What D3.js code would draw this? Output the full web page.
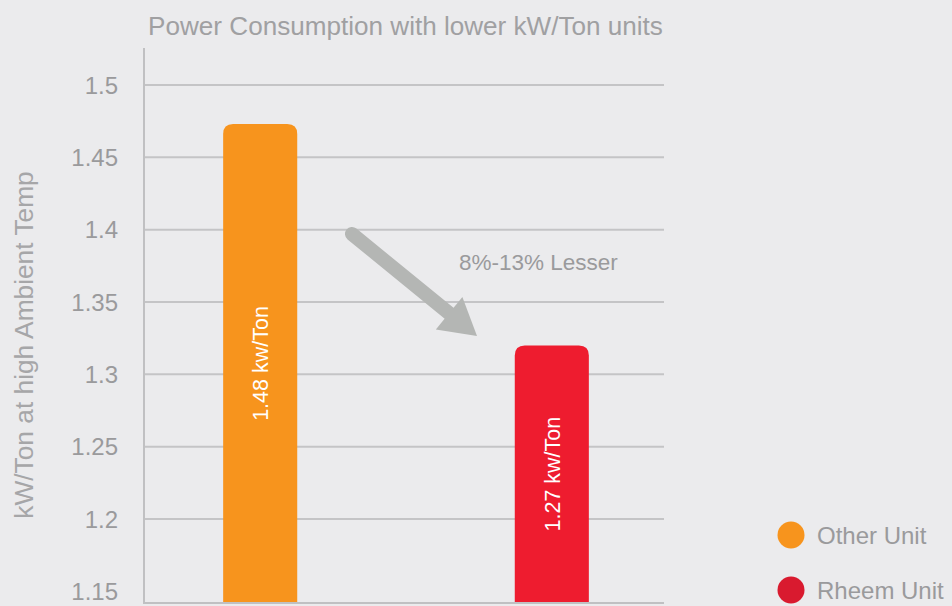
<!DOCTYPE html>
<html>
<head>
<meta charset="utf-8">
<script src="https://cdn.jsdelivr.net/npm/d3@7"></script>
<style>
  html, body { margin: 0; padding: 0; background: #ebebed; }
  svg { display: block; }
  text { font-family: "Liberation Sans", Arial, sans-serif; }
</style>
</head>
<body>
<svg id="chart" width="952" height="606"></svg>
<script>
const categories = ["Other Unit", "Rheem Unit"];
const values = [1.473, 1.320];
const barLabels = ["1.48 kw/Ton", "1.27 kw/Ton"];
const tickValues = [1.15, 1.2, 1.25, 1.3, 1.35, 1.4, 1.45, 1.5];
const gridValues = [1.2, 1.25, 1.3, 1.35, 1.4, 1.45, 1.5];
const colors = ["#f7941d", "#ee1c2f"];
const legendColors = ["#f7941d", "#d91a2f"];
const titleText = "Power Consumption with lower kW/Ton units";
const yTitle = "kW/Ton at high Ambient Temp";
const annotation = "8%-13% Lesser";

const svg = d3.select("#chart");
const W = 952, H = 606;
svg.append("rect").attr("width", W).attr("height", H).attr("fill", "#ebebed");

const plotLeft = 145, plotRight = 664;
const y = d3.scaleLinear().domain([1.2, 1.5]).range([519, 85]);
const yBottom = y(1.142), yTop = y(1.5255);

const x = d3.scaleBand().domain(categories).range([plotLeft, 667])
  .paddingInner(0.746).paddingOuter(0.268);

// gridlines
svg.append("g").selectAll("line").data(gridValues).join("line")
  .attr("x1", plotLeft).attr("x2", plotRight)
  .attr("y1", d => y(d)).attr("y2", d => y(d))
  .attr("stroke", "#c4c4c6").attr("stroke-width", 2);

// bars with rounded tops
const r = 10;
svg.append("g").selectAll("path").data(values).join("path")
  .attr("d", (d, i) => {
    const x0 = x(categories[i]), x1 = x0 + x.bandwidth();
    const t = y(d), b = yBottom;
    return `M${x0},${b} L${x0},${t + r} Q${x0},${t} ${x0 + r},${t} L${x1 - r},${t} Q${x1},${t} ${x1},${t + r} L${x1},${b} Z`;
  })
  .attr("fill", (d, i) => colors[i]);

// axis lines
svg.append("line").attr("x1", plotLeft - 1).attr("x2", plotLeft - 1)
  .attr("y1", yTop).attr("y2", yBottom + 1)
  .attr("stroke", "#c0c0c2").attr("stroke-width", 2);
svg.append("line").attr("x1", plotLeft - 2).attr("x2", plotRight)
  .attr("y1", yBottom).attr("y2", yBottom)
  .attr("stroke", "#c0c0c2").attr("stroke-width", 2);

// tick labels
svg.append("g").selectAll("text").data(tickValues).join("text")
  .attr("x", 118).attr("y", d => y(d)).attr("dy", "0.36em")
  .attr("text-anchor", "end").attr("font-size", 24).attr("fill", "#9a9a9c")
  .text(d => d3.format("")(d));

// bar labels
svg.append("g").selectAll("text").data(values).join("text")
  .attr("transform", (d, i) => {
    const cx = x(categories[i]) + x.bandwidth() / 2;
    const cy = (y(d) + yBottom) / 2;
    return `translate(${cx},${cy}) rotate(-90)`;
  })
  .attr("text-anchor", "middle").attr("dy", "0.36em")
  .attr("font-size", 21.5).attr("fill", "#ffffff")
  .text((d, i) => barLabels[i]);

// title
svg.append("text").attr("x", 405.5).attr("y", 35)
  .attr("text-anchor", "middle").attr("font-size", 26.1).attr("fill", "#a0a0a2")
  .text(titleText);

// y title
svg.append("text").attr("transform", `translate(33,345) rotate(-90)`)
  .attr("text-anchor", "middle").attr("font-size", 26.3).attr("fill", "#a6a6a8")
  .text(yTitle);

// arrow annotation
const sx = 352, sy = y(1.397);
const tx = 477, ty = y(1.3265);
const dx = tx - sx, dy = ty - sy, len = Math.hypot(dx, dy);
const ux = dx / len, uy = dy / len;
const headLen = 36, headHalf = 21;
const bx = tx - ux * headLen, by = ty - uy * headLen;
svg.append("line").attr("x1", sx).attr("y1", sy).attr("x2", bx + ux * 2).attr("y2", by + uy * 2)
  .attr("stroke", "#b4b6b4").attr("stroke-width", 14).attr("stroke-linecap", "round");
svg.append("path")
  .attr("d", `M${tx},${ty} L${bx - uy * headHalf},${by + ux * headHalf} L${bx + uy * headHalf},${by - ux * headHalf} Z`)
  .attr("fill", "#b4b6b4");

svg.append("text").attr("x", 459).attr("y", 270)
  .attr("font-size", 22.5).attr("fill", "#9a9a9c").text(annotation);

// legend
const legend = svg.append("g").selectAll("g").data(categories).join("g")
  .attr("transform", (d, i) => `translate(791,${535 + i * 55})`);
legend.append("circle").attr("r", 13.5).attr("fill", (d, i) => legendColors[i]);
legend.append("text").attr("x", 26).attr("dy", "0.36em")
  .attr("font-size", 24).attr("fill", "#9a9a9c").text(d => d);
</script>
</body>
</html>
